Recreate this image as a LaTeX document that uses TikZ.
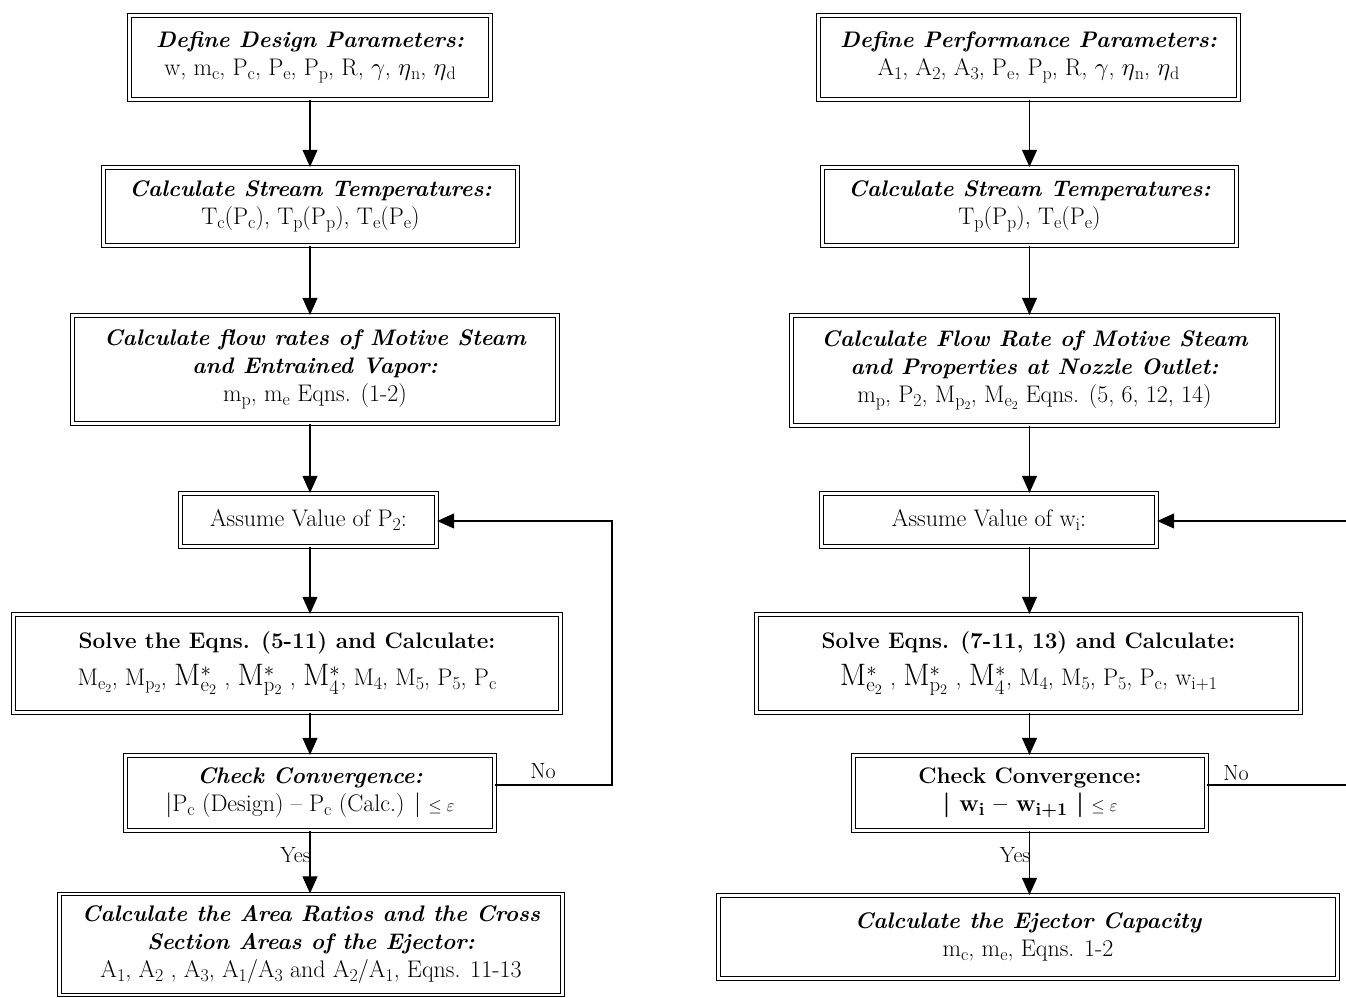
\documentclass[tikz,border=0pt]{standalone}
\usepackage{amsmath}
\usepackage{amssymb}
\usepackage{tikz}
\usetikzlibrary{arrows.meta,calc}
\newcommand{\ix}[1]{\raisebox{-0.4ex}{\fontsize{18}{18}\selectfont #1}}
\newcommand{\bigM}[1]{{\fontsize{31}{31}\selectfont M$^{*}_{\mathrm{#1}}$}}
\newcommand{\hd}[1]{{\fontsize{22.5}{28}\selectfont\bfseries\itshape #1}}
\newcommand{\hdb}[1]{{\fontsize{22.5}{28}\selectfont\bfseries #1}}
\newcommand{\leeps}{{\fontsize{19}{19}\selectfont$\leq\varepsilon$}}
\tikzset{
box/.style={draw, double, line width=1.3pt, double distance=2.2pt, align=center, inner sep=0pt,
  font=\fontsize{24}{28}\selectfont},
arr/.style={-{Triangle[length=17pt,width=15pt]}, line width=1.1pt},
lbl/.style={font=\fontsize{22}{26}\selectfont, inner sep=1pt}
}
\begin{document}
\begin{tikzpicture}[x=1pt,y=-1pt]
\useasboundingbox (0,0) rectangle (1346,998);
\node (L1) at (310,57.5) [box, minimum width=361, minimum height=84]
{\hd{Define Design Parameters:}\\
w, m\ix{c}, P\ix{c}, P\ix{e}, P\ix{p}, R, $\gamma$, $\eta$\ix{n}, $\eta$\ix{d}};
\node (L2) at (310.5,206.5) [box, minimum width=414, minimum height=78]
{\hd{Calculate Stream Temperatures:}\\
T\ix{c}(P\ix{c}), T\ix{p}(P\ix{p}), T\ix{e}(P\ix{e})};
\node (L3) at (315,369.5) [box, minimum width=485, minimum height=108]
{\hd{Calculate flow rates of Motive Steam}\\
\hd{and Entrained Vapor:}\\
m\ix{p}, m\ix{e} Eqns. (1-2)};
\node (L4) at (308.5,520) [box, minimum width=256, minimum height=53]
{Assume Value of P\ix{2}:};
\node (L5) at (287,663.5) [box, minimum width=547, minimum height=98]
{\hdb{Solve the Eqns. (5-11) and Calculate:}\\[9pt]
M\ix{e$_2$}, M\ix{p$_2$}, \bigM{e_2} , \bigM{p_2} , \bigM{4}, M\ix{4}, M\ix{5}, P\ix{5}, P\ix{c}};
\node (L6) at (310,793) [box, minimum width=369, minimum height=75]
{\hd{Check Convergence:}\\
$|$P\ix{c} (Design) -- P\ix{c} (Calc.) $|$ \leeps};
\node (L7) at (311,944.5) [box, minimum width=503, minimum height=101]
{\hd{Calculate the Area Ratios and the Cross}\\
\hd{Section Areas of the Ejector:}\\
A\ix{1}, A\ix{2} , A\ix{3}, A\ix{1}/A\ix{3} and A\ix{2}/A\ix{1}, Eqns. 11-13};
\node (R1) at (1028.5,57.5) [box, minimum width=420, minimum height=84]
{\hd{Define Performance Parameters:}\\
A\ix{1}, A\ix{2}, A\ix{3}, P\ix{e}, P\ix{p}, R, $\gamma$, $\eta$\ix{n}, $\eta$\ix{d}};
\node (R2) at (1029.5,206.5) [box, minimum width=414, minimum height=78]
{\hd{Calculate Stream Temperatures:}\\
T\ix{p}(P\ix{p}), T\ix{e}(P\ix{e})};
\node (R3) at (1034.5,370.5) [box, minimum width=486, minimum height=110]
{\hd{Calculate Flow Rate of Motive Steam}\\
\hd{and Properties at Nozzle Outlet:}\\
m\ix{p}, P\ix{2}, M\ix{p$_2$}, M\ix{e$_2$} Eqns. (5, 6, 12, 14)};
\node (R4) at (989,520) [box, minimum width=335, minimum height=53]
{Assume Value of w\ix{i}:};
\node (R5) at (1028.5,663.5) [box, minimum width=544, minimum height=98]
{\hdb{Solve Eqns. (7-11, 13) and Calculate:}\\[9pt]
\bigM{e_2} , \bigM{p_2} , \bigM{4}, M\ix{4}, M\ix{5}, P\ix{5}, P\ix{c}, w\ix{i+1}};
\node (R6) at (1030,793) [box, minimum width=353, minimum height=75]
{\hdb{Check Convergence:}\\
\textbf{$\boldsymbol{|}$ w\ix{\bfseries i} -- w\ix{\bfseries i+1} $\boldsymbol{|}$} \leeps};
\node (R7) at (1028,937) [box, minimum width=619, minimum height=83]
{\hd{Calculate the Ejector Capacity}\\
m\ix{c}, m\ix{e}, Eqns. 1-2};
\draw[arr] (L1.south) -- (L1.south |- L2.north);
\draw[arr] (L1.south |- L2.south) -- (L1.south |- L3.north);
\draw[arr] (L1.south |- L3.south) -- (L1.south |- L4.north);
\draw[arr] (L1.south |- L4.south) -- (L1.south |- L5.north);
\draw[arr] (L1.south |- L5.south) -- (L1.south |- L6.north);
\draw[arr] (L1.south |- L6.south) -- (L1.south |- L7.north);
\draw[arr] (R2.north |- R1.south) -- (R2.north);
\draw[arr] (R2.south) -- (R2.south |- R3.north);
\draw[arr] (R2.south |- R3.south) -- (R2.south |- R4.north);
\draw[arr] (R2.south |- R4.south) -- (R2.south |- R5.north);
\draw[arr] (R2.south |- R5.south) -- (R2.south |- R6.north);
\draw[arr] (R2.south |- R6.south) -- (R2.south |- R7.north);
\coordinate (fbL) at (612,521);
\draw[arr] ([yshift=8pt]L6.east) -| (fbL) -- (L4.east |- fbL);
\node (noL) at (543,771) [lbl] {No};
\node (yesL) at (L1.south |- 0,855) [lbl, anchor=east, xshift=2pt] {Yes};
\coordinate (fbR1) at (1350,785);
\coordinate (fbR2) at (1350,521);
\draw[line width=1.1pt] ([yshift=8pt]R6.east) -- (fbR1);
\draw[arr] (fbR2) -- (R4.east |- fbR2);
\node (noR) at (1236,773) [lbl] {No};
\node (yesR) at (R2.south |- 0,855) [lbl, anchor=east, xshift=2pt] {Yes};
\end{tikzpicture}
\end{document}
